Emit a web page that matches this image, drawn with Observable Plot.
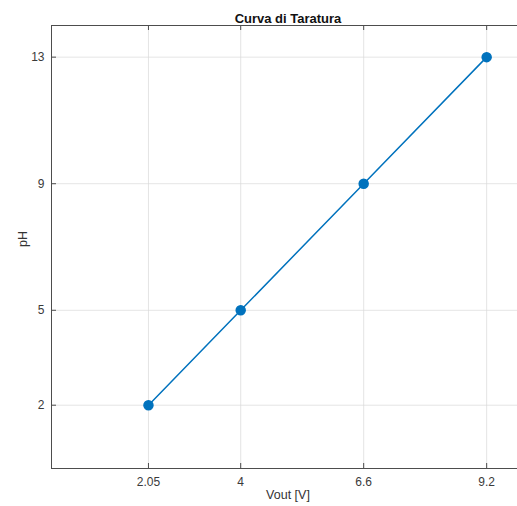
<!DOCTYPE html>
<html><head><meta charset="utf-8">
<script src="https://cdn.jsdelivr.net/npm/d3@7"></script>
<script src="https://cdn.jsdelivr.net/npm/@observablehq/plot@0.6"></script>
<style>
html,body{margin:0;padding:0;background:#fff;overflow:hidden;}
#chart svg{display:block;overflow:hidden;}
</style>
</head><body><div id="chart"></div>
<script>
const vout = [2.05, 4, 6.6, 9.2];
const ph = [2, 5, 9, 13];
const xTicks = [2.05, 4, 6.6, 9.2];
const yTicks = [2, 5, 9, 13];
const xDomain = [0, 10];
const yDomain = [0, 14];
const title = "Curva di Taratura";
const xLabel = "Vout [V]";
const yLabel = "pH";

const data = vout.map((v, i) => ({v, p: ph[i]}));
const axisColor = "#4d4d4d";
const font = "Liberation Sans, Arial, Helvetica, sans-serif";
const W = 517, H = 506, mL = 51, mR = -7, mT = 25, mB = 38;
const pw = W - mL - mR, ph_ = H - mT - mB;
const tick = 5;

const chart = Plot.plot({
  width: W,
  height: H,
  marginLeft: mL,
  marginRight: mR,
  marginTop: mT,
  marginBottom: mB,
  style: {fontFamily: font, fontSize: "12px", color: "#333", background: "#fff", overflow: "hidden"},
  x: {domain: xDomain, label: null},
  y: {domain: yDomain, label: null},
  marks: [
    Plot.gridX(xTicks, {stroke: "#d8d8d8", strokeOpacity: 1, strokeWidth: 0.7}),
    Plot.gridY(yTicks, {stroke: "#d8d8d8", strokeOpacity: 1, strokeWidth: 0.7}),
    Plot.ruleX(xTicks, {x: d => d, insetTop: ph_ - tick, stroke: axisColor}),
    Plot.ruleX(xTicks, {x: d => d, insetBottom: ph_ - tick, stroke: axisColor}),
    Plot.ruleY(yTicks, {y: d => d, insetRight: pw - tick, stroke: axisColor}),
    Plot.ruleY(yDomain, {y: d => d, stroke: axisColor}),
    Plot.ruleX([xDomain[0]], {x: d => d, stroke: axisColor}),
    Plot.axisX(xTicks, {anchor: "bottom", tickSize: 0, tickPadding: 9, tickFormat: d => String(d), fill: "#3a3a3a"}),
    Plot.axisY(yTicks, {anchor: "left", tickSize: 0, tickPadding: 7, tickFormat: d => String(d), fill: "#3a3a3a"}),
    Plot.line(data, {x: "v", y: "p", stroke: "#0072BD", strokeWidth: 1.5}),
    Plot.dot(data, {x: "v", y: "p", r: 4.5, fill: "#0072BD", stroke: "#0072BD"}),
    Plot.text([title], {frameAnchor: "top", dy: -12, text: d => d, fontWeight: "bold", fontSize: 13, fill: "#111"}),
    Plot.text([xLabel], {frameAnchor: "bottom", dy: 30, text: d => d, fontSize: 12.5, fill: "#333"}),
    Plot.text([yLabel], {frameAnchor: "left", dx: -29, rotate: -90, text: d => d, fontSize: 12.5, fill: "#333"})
  ]
});
document.getElementById("chart").appendChild(chart);
</script>
</body></html>
